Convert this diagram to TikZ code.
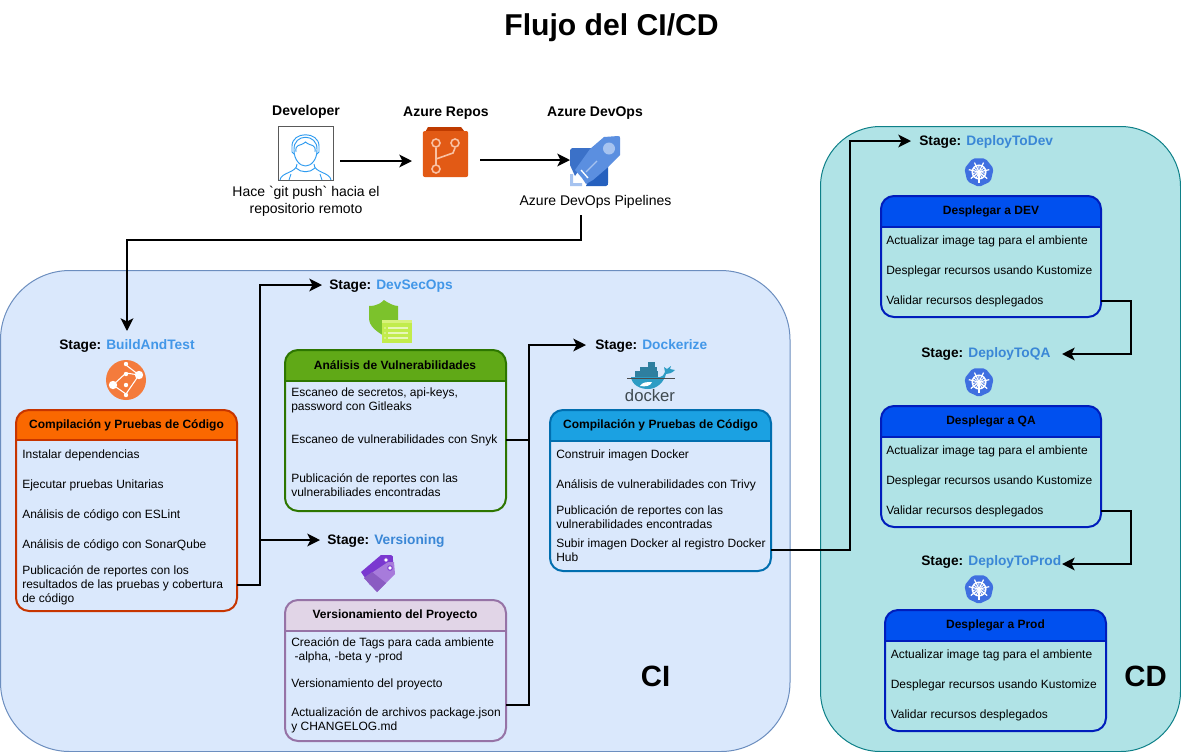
\documentclass[tikz,border=0pt]{standalone}
\usepackage{fontspec}
\setmainfont{Liberation Sans}
\usetikzlibrary{arrows.meta,shapes.geometric,calc}
\definecolor{stageblue}{HTML}{4297E8}
\definecolor{stageblueb}{HTML}{3A87D6}
\definecolor{CIfill}{HTML}{DAE8FC}
\definecolor{CIstroke}{HTML}{6C8EBF}
\definecolor{CDfill}{HTML}{B0E3E6}
\definecolor{CDstroke}{HTML}{0E8088}
\definecolor{devblue}{HTML}{2E9BF0}
\definecolor{reposdark}{HTML}{BF3B00}
\definecolor{reposorange}{HTML}{E25A15}
\definecolor{reposlight}{HTML}{F9C1A3}
\definecolor{adoa}{HTML}{3B71C8}
\definecolor{adob}{HTML}{2560BE}
\definecolor{adoc}{HTML}{5B8FE0}
\definecolor{adod}{HTML}{A6C3F0}
\definecolor{buildor}{HTML}{F47B3C}
\definecolor{shieldg}{HTML}{7CC22C}
\definecolor{shieldl}{HTML}{C2EC4C}
\definecolor{shieldb}{HTML}{D8F27C}
\definecolor{tagd}{HTML}{7A38D0}
\definecolor{tagl}{HTML}{A77BDB}
\definecolor{taggrad}{HTML}{8A5CC2}
\definecolor{dockb}{HTML}{2D9CC4}
\definecolor{dockc}{HTML}{2E7F9F}
\definecolor{dockgrey}{HTML}{3F4A50}
\definecolor{k8sblue}{HTML}{3F6FE0}
\definecolor{buildhead}{HTML}{FA6800}
\definecolor{buildline}{HTML}{C73500}
\definecolor{sechead}{HTML}{60A917}
\definecolor{secline}{HTML}{2D7600}
\definecolor{verhead}{HTML}{E1D5E7}
\definecolor{verline}{HTML}{9673A6}
\definecolor{dochead}{HTML}{1BA1E2}
\definecolor{docline}{HTML}{006EAF}
\definecolor{dephead}{HTML}{0050EF}
\definecolor{depline}{HTML}{001DBC}
\tikzset{
  x=0.75pt,y=-0.75pt,
  conn/.style={draw=black,line width=1.6pt,-{Stealth[length=9.5pt,width=9.5pt,inset=2.4pt]}},
  plainconn/.style={draw=black,line width=1.6pt},
  lbl/.style={inner sep=0pt,anchor=west,align=left,font=\fontsize{9}{10.6}\selectfont,text=black},
  head/.style={inner sep=0pt,font=\fontsize{9}{11}\bfseries\selectfont,text=black},
  stage/.style={inner sep=0pt,anchor=west,font=\fontsize{10.3}{12}\bfseries\selectfont},
  plaintext/.style={inner sep=0pt,align=center,font=\fontsize{10.5}{12.6}\selectfont,text=black},
  toplbl/.style={inner sep=0pt,font=\fontsize{10.5}{12}\bfseries\selectfont},
}
% swim-lane box: name, x1,y1,x2,y2, header bottom, fill, stroke
\newcommand{\lanebox}[8]{%
  \fill[#7] (#2+13,#3) -- (#4-13,#3) arc[start angle=90,end angle=0,radius=9.75pt] -- (#4,#6) -- (#2,#6) -- (#2,#3+13) arc[start angle=180,end angle=90,radius=9.75pt] -- cycle;
  \draw[#8,line width=1.5pt,rounded corners=9.75pt] (#2,#3) rectangle (#4,#5);
  \draw[#8,line width=0.9pt] (#2,#6) -- (#4,#6);
  \node[inner sep=0pt] (#1) at ({(#2+#4)/2},{(#3+#5)/2}) {};
}
\newcommand{\kube}[2]{%
  \begin{scope}[shift={(#1,#2)}]
  \fill[k8sblue,rounded corners=1.5pt] (90:15) -- (141.4:15) -- (192.9:15) -- (244.3:15) -- (295.7:15) -- (347.1:15) -- (398.6:15) -- cycle;
  \draw[white,line width=1.1pt] (0,0) circle[radius=6.8];
  \foreach \a in {90,141.4,192.9,244.3,295.7,347.1,398.6}{
    \draw[white,line width=0.9pt] (\a:2) -- (\a:10.5);
    \draw[white,line width=0.7pt] (\a+25:2.5) -- (\a+25:7);}
  \fill[white] (0,0) circle[radius=2.2];
  \end{scope}}
\begin{document}
\begin{tikzpicture}
\useasboundingbox (0,0) rectangle (1181,751);
\fill[white] (0,0) rectangle (1181,751);
% panels
\draw[fill=CIfill,draw=CIstroke,line width=0.75pt,rounded corners=52pt] (0.5,270.5) rectangle (790,751.5);
\draw[fill=CDfill,draw=CDstroke,line width=0.75pt,rounded corners=45pt] (820.5,126.5) rectangle (1180.5,751.5);
\node[inner sep=0pt,font=\fontsize{22.6}{26}\bfseries\selectfont] (title) at (611.5,28) {Flujo del CI/CD};
\node[inner sep=0pt,font=\fontsize{22}{25}\bfseries\selectfont] (cilbl) at (655.5,676) {CI};
\node[inner sep=0pt,font=\fontsize{22}{25}\bfseries\selectfont] (cdlbl) at (1145.5,676) {CD};

% --- top row
\node[toplbl] (devt) at (306,112) {Developer};
\node[toplbl] (repot) at (446,113) {Azure Repos};
\node[toplbl] (adot) at (595,113) {Azure DevOps};
% developer icon
\node[draw=black!65,fill=white,line width=0.6pt,minimum width=41.3pt,minimum height=40.5pt,inner sep=0pt] (dev) at (305.5,153.5) {};
\begin{scope}[line width=0.7pt]
\draw[devblue] (280,180) .. controls (281,172) and (297,173) .. (297,164) ;
\draw[devblue] (331,180) .. controls (330,172) and (314,173) .. (314,164);
\draw[devblue] (294,150) .. controls (293,133) and (318,133) .. (317,150) .. controls (317,160) and (311,166) .. (305.5,166) .. controls (300,166) and (294,160) .. (294,150) -- cycle;
\draw[devblue] (296,152) .. controls (295,143) and (300,147) .. (305.5,142) .. controls (311,147) and (316,143) .. (315,152);
\draw[devblue] (294,154) -- (292,152) -- (292,146) .. controls (292,131) and (319,131) .. (319,146) -- (319,152) -- (317,154);
\draw[devblue] (296,168) .. controls (301,173) and (310,173) .. (315,168);
\draw[devblue] (289,180) -- (291,174);\draw[devblue] (322,180) -- (320,174);
\end{scope}
\node[plaintext] (devc) at (306,201.5) {Hace \textasciigrave git push\textasciigrave{} hacia el\\repositorio remoto};
% repos icon
\fill[reposdark] (423,136) -- (428,127) -- (461,127) -- (468,136) -- cycle;
\node[fill=reposorange,minimum width=34pt,minimum height=34.5pt,inner sep=0pt,rounded corners=1.5pt] (repo) at (445.5,154) {};
\begin{scope}[line width=1.2pt]
\draw[reposlight] (436,148) -- (436,165);
\draw[reposlight] (436,159) -- (453,153) -- (455,148);
\draw[reposlight,fill=reposorange] (436,143) circle[radius=4];
\draw[reposlight,fill=reposorange] (455,143) circle[radius=4];
\draw[reposlight,fill=reposorange] (436,169) circle[radius=4];
\end{scope}
% pipelines icon
\fill[adoa] (570,150) -- (572,148) -- (594,148) -- (575,176) -- (570,165) -- cycle;
\fill[adob] (586,186) -- (606,186) .. controls (608,186) and (608,184) .. (608,183) -- (608,157) -- (596,165) -- cycle;
\fill[adoc] (582,178) -- (575,170) -- (590,149) -- (604,137) -- (618,136) .. controls (620,136) and (620,137) .. (620,138) -- (620,155) -- (607,168) -- (593,180) -- (586,184) -- cycle;
\fill[adod] (609,148.5) circle[radius=6];
\draw[adod,line width=1pt] (597,161) -- (586,172);
\draw[white,line width=1pt] (581,170) -- (588,178);
\fill[adod] (570,174) -- (573,174) -- (573,183) -- (582,183) -- (582,186) -- (570,186) -- cycle;
\node[plaintext] (adoc) at (595.5,201.5) {Azure DevOps Pipelines};

% --- stage labels
\node[stage] (sb) at (59,346) {Stage: \textcolor{stageblue}{BuildAndTest}};
\node[stage] (ss) at (329,286) {Stage: \textcolor{stageblue}{DevSecOps}};
\node[stage] (sv) at (327,541) {Stage: \textcolor{stageblueb}{Versioning}};
\node[stage] (sd) at (595,346) {Stage: \textcolor{stageblue}{Dockerize}};
\node[stage] (s1) at (919,142) {Stage: \textcolor{stageblueb}{DeployToDev}};
\node[stage] (s2) at (921,354) {Stage: \textcolor{stageblueb}{DeployToQA}};
\node[stage] (s3) at (921,562) {Stage: \textcolor{stageblueb}{DeployToProd}};

% --- build icon
\fill[buildor] (126,380) circle[radius=20];
\draw[white,line width=0.8pt] (113,385) -- (126,373) (126,373) -- (139,375) -- (126,365) (139,375) -- (126,394) (113,385) -- (126,394);
\fill[white] (113,385) circle[radius=4.2];\fill[white] (139,375) circle[radius=4.2];
\fill[white] (126,364) circle[radius=2.2];\fill[white] (126,374) circle[radius=2.2];\fill[white] (126,385) circle[radius=2.2];\fill[white] (126,395) circle[radius=2.2];
% --- shield icon
\fill[shieldg] (369,306) .. controls (378,306) and (382,302) .. (384,300) .. controls (388,303) and (394,306) .. (398,306) -- (398,322) -- (384,336) .. controls (376,331) and (369,326) .. (369,318) -- cycle;
\fill[shieldl] (382,320) rectangle (412,343);
\fill[shieldb] (382,320) rectangle (412,323);
\draw[white!60!shieldl,line width=0.8pt] (388,328) -- (408,328) (388,333) -- (408,333) (388,338) -- (408,338);
\fill[white!60!shieldl] (385,328) circle[radius=0.9] (385,333) circle[radius=0.9] (385,338) circle[radius=0.9];
% --- tag icon
\fill[tagd] (361,572) -- (381,555) -- (391,555) .. controls (393,555) and (393,557) .. (393,560) -- (393,568) -- (370,585) -- cycle;
\fill[tagl] (364,578) -- (388,562) -- (394,562) -- (395,574) -- (377,592) -- cycle;
\fill[taggrad] (364,578) -- (377,592) -- (386,583) -- (372,572) -- cycle;
\draw[tagd,fill=white,line width=0.7pt] (386,560) circle[radius=2.3] (390,568) circle[radius=2.3];
% --- docker icon
\fill[dockb] (631,377) -- (660,377) .. controls (662,377) and (664,375) .. (665,372) -- (664,367) -- (667,369) -- (671,366) -- (670,369) -- (675,370) .. controls (672,373) and (669,374) .. (666,374) .. controls (664,382) and (657,389) .. (648,389) .. controls (640,389) and (632,385) .. (631,377) -- cycle;
\fill[white] (640,386) .. controls (645,387) and (651,386) .. (652,382) .. controls (647,382) and (642,382) .. (640,386);
\fill[dockc] (648,362) rectangle (655,366.5);
\fill[dockc] (640,366.8) rectangle (657,371);
\fill[dockc] (635,371.3) rectangle (658,376.5);
\draw[black!70,line width=0.35pt] (627,378) -- (675,378);
\node[inner sep=0pt,text=dockgrey,font=\fontsize{12.5}{14}\selectfont] (dockword) at (650,396) {docker};
% --- kube icons
\kube{979}{172}
\kube{979}{382}
\kube{979}{589}

% --- boxes
\lanebox{bt}{16}{410}{237}{611}{440}{buildhead}{buildline}
\lanebox{sec}{285}{350}{506}{511}{381}{sechead}{secline}
\lanebox{ver}{285}{600}{506}{741}{631}{verhead}{verline}
\lanebox{doc}{550}{410}{771}{571}{441}{dochead}{docline}
\lanebox{dp1}{881}{196}{1101}{317}{227}{dephead}{depline}
\lanebox{dp2}{881}{406}{1101}{527}{437}{dephead}{depline}
\lanebox{dp3}{885}{610}{1106}{731}{641}{dephead}{depline}

\node[head] (bth) at (126.5,425.5) {Compilación y Pruebas de Código};
\node[lbl] (bt1) at (22,455) {Instalar dependencias};
\node[lbl] (bt2) at (22,485) {Ejecutar pruebas Unitarias};
\node[lbl] (bt3) at (22,515) {Análisis de código con ESLint};
\node[lbl] (bt4) at (22,545) {Análisis de código con SonarQube};
\node[lbl] (bt5) at (22,585.5) {Publicación de reportes con los\\resultados de las pruebas y cobertura\\de código};

\node[head] (sech) at (395,365.5) {Análisis de Vulnerabilidades};
\node[lbl] (sec1) at (291,400.5) {Escaneo de secretos, api-keys,\\password con Gitleaks};
\node[lbl] (sec2) at (291,440.5) {Escaneo de vulnerabilidades con Snyk};
\node[lbl] (sec3) at (291,485.5) {Publicación de reportes con las\\vulnerabiliades encontradas};

\node[head] (verh) at (395,615.5) {Versionamiento del Proyecto};
\node[lbl] (ver1) at (291,650.5) {Creación de Tags para cada ambiente\\ \ -alpha, -beta y -prod};
\node[lbl] (ver2) at (291,684.5) {Versionamiento del proyecto};
\node[lbl] (ver3) at (291,720.5) {Actualización de archivos package.json\\y CHANGELOG.md};

\node[head] (doch) at (660.5,425.5) {Compilación y Pruebas de Código};
\node[lbl] (doc1) at (556,455) {Construir imagen Docker};
\node[lbl] (doc2) at (556,485) {Análisis de vulnerabilidades con Trivy};
\node[lbl] (doc3) at (556,517.5) {Publicación de reportes con las\\vulnerabilidades encontradas};
\node[lbl] (doc4) at (556,550.5) {Subir imagen Docker al registro Docker\\Hub};

\node[head] (ha) at (991,211.5) {Desplegar a DEV};
\node[lbl] (a1) at (886,241.5) {Actualizar image tag para el ambiente};
\node[lbl] (a2) at (886,271.5) {Desplegar recursos usando Kustomize};
\node[lbl] (a3) at (886,301.5) {Validar recursos desplegados};
\node[head] (hb) at (991,421.5) {Desplegar a QA};
\node[lbl] (b1) at (886,451.5) {Actualizar image tag para el ambiente};
\node[lbl] (b2) at (886,481.5) {Desplegar recursos usando Kustomize};
\node[lbl] (b3) at (886,511.5) {Validar recursos desplegados};
\node[head] (hc) at (995.5,625.5) {Desplegar a Prod};
\node[lbl] (c1) at (890.5,655.5) {Actualizar image tag para el ambiente};
\node[lbl] (c2) at (890.5,685.5) {Desplegar recursos usando Kustomize};
\node[lbl] (c3) at (890.5,715.5) {Validar recursos desplegados};

% --- connectors
\coordinate (devout) at (340,161);
\coordinate (repoin) at (412,161);
\coordinate (repoout) at (480,160);
\coordinate (adoin) at (570,160);
\coordinate (adoout) at (581,215);
\coordinate (btin) at (127,331);
\coordinate (btout) at (237,585);
\coordinate (secin) at (322,285);
\coordinate (jn) at (260,540);
\coordinate (verin) at (320,540);
\coordinate (secout) at (506,440);
\coordinate (jn2) at (529,440);
\coordinate (verout) at (506,705);
\coordinate (docin) at (586,345);
\coordinate (docout) at (771,550);
\coordinate (dp1in) at (911,141);
\coordinate (dp1out) at (1101,301);
\coordinate (dp2in) at (1062,354);
\coordinate (dp2out) at (1101,511);
\coordinate (dp3in) at (1062,564);
\draw[conn] (devout) -- (repoin);
\draw[conn] (repoout) -- (adoin);
\draw[conn] (adoout) |- (354,240) -| (btin);
\draw[conn] (btout) -| (260,285) -- (secin);
\draw[conn] (jn) -- (verin);
\draw[plainconn] (secout) -- (jn2);
\draw[conn] (verout) -| (529,345) -- (docin);
\draw[conn] (docout) -| (850,141) -- (dp1in);
\draw[conn] (dp1out) -| (1131,354) -- (dp2in);
\draw[conn] (dp2out) -| (1131,564) -- (dp3in);
\end{tikzpicture}
\end{document}
